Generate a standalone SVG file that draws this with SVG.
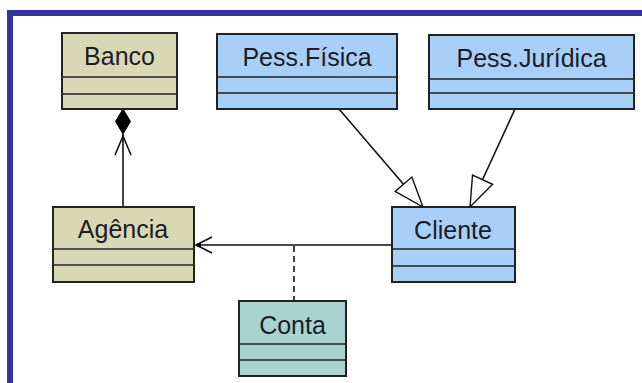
<svg xmlns="http://www.w3.org/2000/svg" width="642" height="383" viewBox="0 0 642 383">
  <style>
    .cls { stroke: #222222; stroke-width: 2; }
    .div { stroke: #222222; stroke-width: 1.6; fill: none; }
    .khaki { fill: #d9d8b4; }
    .blue { fill: #a8cff8; }
    .teal { fill: #a8d3cf; }
    .name { font-family: "Liberation Sans", Arial, sans-serif; font-size: 25px; fill: #1c1c28; text-anchor: middle; }
    .edge { stroke: #111111; stroke-width: 1.6; fill: none; }
    .dash { stroke: #111111; stroke-width: 1.6; fill: none; stroke-dasharray: 6 4; }
  </style>
  <defs>
    <!-- hollow triangle for generalization -->
    <marker id="gen" markerUnits="userSpaceOnUse" markerWidth="34" markerHeight="26" viewBox="-1 -13 34 26" refX="31" refY="0" orient="auto">
      <path d="M1,-11 L31,0 L1,11 Z" fill="#ffffff" stroke="#111111" stroke-width="1.4"/>
    </marker>
  </defs>

  <rect x="0" y="0" width="642" height="383" fill="#ffffff"/>

  <!-- frame -->
  <rect x="7" y="10" width="635" height="6" fill="#34349c"/>
  <rect x="7" y="10" width="6" height="373" fill="#34349c"/>

  <!-- connectors -->
  <g id="connectors">
    <!-- composition Banco <>- Agencia -->
    <line class="edge" x1="123" y1="134" x2="123" y2="207"/>
    <path d="M123,109 L130.5,121.5 L123,134 L115.5,121.5 Z" fill="#000000" stroke="#000000" stroke-width="1"/>
    <path class="edge" d="M115,155 L123,136 L131,155" stroke-width="1.3"/>

    <!-- association Cliente -> Agencia -->
    <line class="edge" x1="196" y1="245" x2="392" y2="245"/>
    <path class="edge" d="M212,237 L196,245 L212,253" stroke-width="1.3"/>
    <rect x="197" y="243" width="4" height="4" fill="#000000"/>

    <!-- association class Conta -->
    <line class="dash" x1="294" y1="246" x2="294" y2="301"/>

    <!-- generalizations -->
    <line class="edge" x1="339" y1="109" x2="423" y2="207" marker-end="url(#gen)"/>
    <line class="edge" x1="515" y1="109" x2="470" y2="207" marker-end="url(#gen)"/>
  </g>

  <g id="banco">
    <rect class="cls khaki" x="62" y="33" width="115" height="76"/>
    <line class="div" x1="62" y1="77" x2="177" y2="77"/>
    <line class="div" x1="62" y1="94" x2="177" y2="94"/>
    <text class="name" x="119.5" y="65">Banco</text>
  </g>

  <g id="pess-fisica">
    <rect class="cls blue" x="217" y="34" width="180" height="75"/>
    <line class="div" x1="217" y1="77" x2="397" y2="77"/>
    <line class="div" x1="217" y1="93" x2="397" y2="93"/>
    <text class="name" x="307" y="66">Pess.Física</text>
  </g>

  <g id="pess-juridica">
    <rect class="cls blue" x="429" y="35" width="205" height="74"/>
    <line class="div" x1="429" y1="79" x2="634" y2="79"/>
    <line class="div" x1="429" y1="93" x2="634" y2="93"/>
    <text class="name" x="531.5" y="67">Pess.Jurídica</text>
  </g>

  <g id="agencia">
    <rect class="cls khaki" x="53" y="207" width="141" height="75"/>
    <line class="div" x1="53" y1="249" x2="194" y2="249"/>
    <line class="div" x1="53" y1="265" x2="194" y2="265"/>
    <text class="name" x="123" y="238">Agência</text>
  </g>

  <g id="cliente">
    <rect class="cls blue" x="392" y="207" width="123" height="75"/>
    <line class="div" x1="392" y1="249" x2="515" y2="249"/>
    <line class="div" x1="392" y1="266" x2="515" y2="266"/>
    <text class="name" x="453" y="239">Cliente</text>
  </g>

  <g id="conta">
    <rect class="cls teal" x="239" y="301" width="107" height="75"/>
    <line class="div" x1="239" y1="344" x2="346" y2="344"/>
    <line class="div" x1="239" y1="360" x2="346" y2="360"/>
    <text class="name" x="292.5" y="334">Conta</text>
  </g>
</svg>
